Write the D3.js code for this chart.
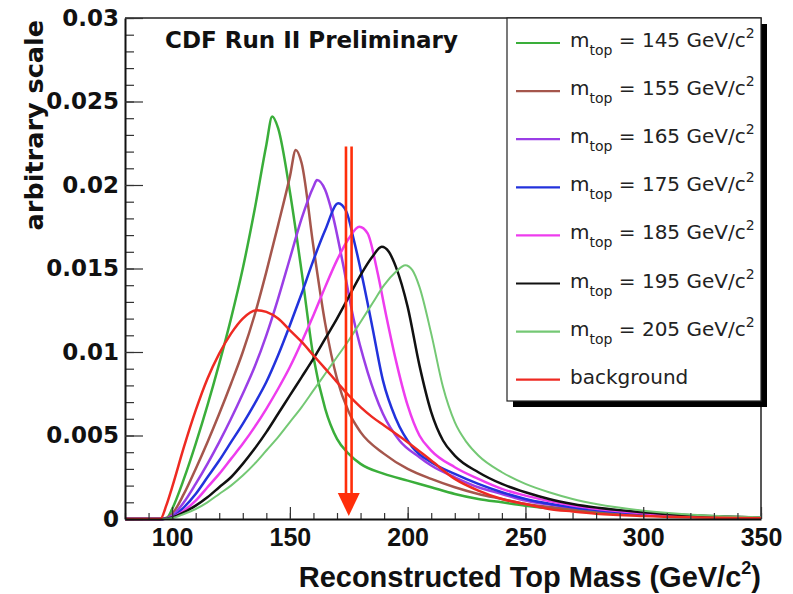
<!DOCTYPE html>
<html>
<head>
<meta charset="utf-8">
<script src="https://cdn.jsdelivr.net/npm/d3@7"></script>
<style>
  body { margin: 0; background: #fff; }
  svg { display: block; }
</style>
</head>
<body>
<div id="outer"></div>
<script>
////////// DATA //////////
const massTicks = [100, 150, 200, 250, 300, 350];
const densityTicks = [0, 0.005, 0.01, 0.015, 0.02, 0.025, 0.03];
const topMasses = [145, 155, 165, 175, 185, 195, 205];
const arrowMass = 175;
const arrowTop = 0.0223;

// [mass, density] pairs for each template
const sig145 = [[80,0],[95,0],[98,0.0001],[100,0.0006],[105,0.0024],[110,0.0045],[115,0.0068],[120,0.0093],[125,0.0120],[130,0.0150],[135,0.0185],[140,0.0224],[142.5,0.0241],[145,0.0234],[150,0.0196],[155,0.0148],[160,0.0097],[165,0.0066],[170,0.0048],[175,0.0039],[180,0.0033],[190,0.0027],[200,0.0023],[210,0.0019],[220,0.0015],[230,0.0012],[240,0.0010],[250,0.0008],[270,0.0005],[300,0.00025],[350,0.00005]];
const sig155 = [[80,0],[96,0],[100,0.0003],[105,0.0015],[110,0.0030],[115,0.0046],[120,0.0063],[125,0.0081],[130,0.0100],[135,0.0122],[140,0.0148],[145,0.0176],[150,0.0205],[152.5,0.0221],[155,0.0213],[160,0.0163],[165,0.0117],[170,0.0084],[175,0.0064],[180,0.0052],[190,0.0039],[200,0.0030],[210,0.0024],[220,0.0019],[230,0.0015],[240,0.0012],[250,0.0009],[270,0.0006],[300,0.0003],[350,0.00006]];
const sig165 = [[80,0],[96,0],[100,0.0002],[105,0.0010],[110,0.0021],[115,0.0033],[120,0.0046],[125,0.0060],[130,0.0075],[135,0.0091],[140,0.0110],[145,0.0132],[150,0.0156],[155,0.0180],[160,0.0199],[161.5,0.0203],[165,0.0197],[168,0.0183],[172.5,0.0153],[177,0.0120],[183,0.0088],[189.5,0.0063],[196.5,0.0047],[205,0.0037],[210,0.0032],[220,0.0025],[230,0.0019],[240,0.0015],[250,0.0011],[270,0.0007],[300,0.0003],[350,0.00006]];
const sig175 = [[80,0],[96,0],[100,0.0001],[105,0.0007],[110,0.0015],[115,0.0025],[120,0.0035],[125,0.0046],[130,0.0057],[135,0.0069],[140,0.0082],[145,0.0098],[150,0.0116],[155,0.0135],[160,0.0155],[165,0.0173],[170.5,0.0189],[174,0.0184],[177,0.0168],[181,0.0143],[185,0.0115],[189.5,0.0083],[195,0.0060],[202,0.0043],[210,0.0034],[220,0.0027],[230,0.0021],[240,0.0016],[250,0.0012],[270,0.0007],[300,0.0003],[350,0.00006]];
const sig185 = [[80,0],[96,0],[100,0.0001],[105,0.0005],[110,0.0011],[115,0.0019],[120,0.0027],[125,0.0036],[130,0.0045],[135,0.0055],[140,0.0066],[145,0.0078],[150,0.0091],[155,0.0106],[160,0.0122],[165,0.0139],[170,0.0155],[175,0.0168],[179.5,0.0175],[183,0.0171],[187,0.0149],[191,0.0121],[195,0.0095],[200,0.0068],[205,0.0050],[210,0.0041],[220,0.0031],[230,0.0024],[240,0.0018],[250,0.0014],[270,0.0008],[300,0.00035],[350,0.00007]];
const sig195 = [[80,0],[96,0],[100,0.0001],[105,0.0004],[110,0.0008],[115,0.0013],[120,0.0019],[125,0.0025],[130,0.0033],[135,0.0042],[140,0.0052],[145,0.0063],[150,0.0074],[155,0.0085],[160,0.0096],[165,0.0108],[170,0.0120],[175,0.0133],[180,0.0146],[185,0.0157],[189,0.0163],[192,0.0160],[195,0.0151],[200,0.0127],[205,0.0092],[210,0.0064],[215,0.0047],[220,0.0038],[230,0.0028],[240,0.0021],[250,0.0016],[260,0.0012],[270,0.0009],[300,0.0004],[350,0.00008]];
const sig205 = [[80,0],[96,0],[100,0.00005],[105,0.0003],[110,0.0006],[115,0.0010],[120,0.0015],[125,0.0020],[130,0.0026],[135,0.0033],[140,0.0041],[145,0.0049],[150,0.0058],[155,0.0067],[160,0.0077],[165,0.0087],[170,0.0097],[175,0.0107],[180,0.0118],[185,0.0129],[190,0.0140],[195,0.0148],[199,0.0152],[202,0.0149],[205,0.0139],[210,0.0111],[215,0.0079],[220,0.0058],[225,0.0046],[230,0.0038],[240,0.0028],[250,0.0021],[260,0.0016],[270,0.0012],[280,0.0009],[300,0.0005],[350,0.0001]];
const background = [[80,0],[95,0],[97.5,0.0008],[100,0.0019],[105,0.0043],[110,0.0065],[115,0.0084],[120,0.0099],[125,0.0111],[130,0.0120],[136,0.0125],[140,0.0124],[145,0.0120],[150,0.0113],[155,0.0106],[160,0.0098],[165,0.0090],[170,0.0082],[175,0.0074],[180,0.0067],[185,0.0061],[190,0.0056],[200,0.0046],[210,0.0035],[220,0.0024],[230,0.0017],[240,0.0012],[250,0.0009],[260,0.0006],[270,0.00045],[280,0.00032],[300,0.00018],[320,0.0001],[350,0.00005]];

const signals = [sig145, sig155, sig165, sig175, sig185, sig195, sig205];

////////// STYLE //////////
const signalColors = ['#3aae3a', '#a5564c', '#9a3ee6', '#2232dc', '#ee3cee', '#111111', '#74c874'];
const bgColor = '#ee2a22';
const arrowColor = '#ff2e0a';

const W = 793, H = 594;
const frame = {left: 125, right: 761, top: 18, bottom: 519};
const sansWide = '"DejaVu Sans", sans-serif';
const sansNarrow = '"Liberation Sans", Arial, sans-serif';

////////// SVG //////////
const svg = d3.select('#outer').append('svg')
	.attr('width', W)
	.attr('height', H)
	.style('background', '#fff');

const x = d3.scaleLinear().domain([80, 350]).range([frame.left, frame.right]);
const y = d3.scaleLinear().domain([0, 0.03]).range([frame.bottom, frame.top]);

// frame (top & right)
svg.append('path')
	.attr('d', `M${frame.left},${frame.top}H${frame.right}V${frame.bottom}`)
	.attr('fill', 'none')
	.attr('stroke', '#222')
	.attr('stroke-width', 1.5);

// CURVES //
const line = d3.line()
	.x(d => x(d[0]))
	.y(d => y(d[1]))
	.curve(d3.curveMonotoneX);

const curveGroup = svg.append('g').attr('class', 'curves');
signals.forEach((s, i) => {
	curveGroup.append('path')
		.datum(s)
		.attr('d', line)
		.attr('fill', 'none')
		.attr('stroke', signalColors[i])
		.attr('stroke-width', i === 6 ? 2 : 2.5)
		.attr('stroke-linejoin', 'round');
});
curveGroup.append('path')
	.datum(background)
	.attr('d', line)
	.attr('fill', 'none')
	.attr('stroke', bgColor)
	.attr('stroke-width', 2.5);

// AXES //
const yMinor = d3.range(0, 0.0305, 0.001);
const xMinor = d3.range(80, 351, 10);

svg.append('g')
	.attr('transform', `translate(${frame.left},0)`)
	.call(d3.axisLeft(y).tickValues(yMinor).tickSizeInner(-9).tickSizeOuter(0).tickFormat(''))
	.call(g => g.select('.domain').remove())
	.selectAll('line').attr('stroke', '#333').attr('stroke-width', 1.2);

svg.append('g')
	.attr('transform', `translate(0,${frame.bottom})`)
	.call(d3.axisBottom(x).tickValues(xMinor).tickSizeInner(-6).tickSizeOuter(0).tickFormat(''))
	.call(g => g.select('.domain').remove())
	.selectAll('line').attr('stroke', '#333').attr('stroke-width', 1.2);

const yAxis = svg.append('g')
	.attr('transform', `translate(${frame.left},0)`)
	.call(d3.axisLeft(y).tickValues(densityTicks).tickSizeInner(-18).tickSizeOuter(0).tickPadding(6)
		.tickFormat(d3.format('~g')));
yAxis.select('.domain').attr('stroke', '#111').attr('stroke-width', 2);
yAxis.selectAll('.tick line').attr('stroke', '#333').attr('stroke-width', 1.2);
yAxis.selectAll('text')
	.attr('font-family', sansWide)
	.attr('font-weight', 'bold')
	.attr('font-size', 23)
	.attr('fill', '#111');

const xAxis = svg.append('g')
	.attr('transform', `translate(0,${frame.bottom})`)
	.call(d3.axisBottom(x).tickValues(massTicks).tickSizeInner(-12).tickSizeOuter(0).tickPadding(9));
xAxis.select('.domain').attr('stroke', '#111').attr('stroke-width', 2);
xAxis.selectAll('.tick line').attr('stroke', '#333').attr('stroke-width', 1.2);
xAxis.selectAll('text')
	.attr('font-family', sansNarrow)
	.attr('font-weight', 'bold')
	.attr('font-size', 25)
	.attr('fill', '#111');

// AXIS TITLES //
const xTitle = svg.append('text')
	.attr('x', 761)
	.attr('y', 587)
	.attr('text-anchor', 'end')
	.attr('font-family', sansNarrow)
	.attr('font-weight', 'bold')
	.attr('font-size', 29)
	.attr('fill', '#111');
xTitle.append('tspan').text('Reconstructed Top Mass (GeV/c');
xTitle.append('tspan').attr('font-size', 18).attr('dy', -13).text('2');
xTitle.append('tspan').attr('dy', 13).text(')');

svg.append('text')
	.attr('transform', 'translate(43,20) rotate(-90)')
	.attr('text-anchor', 'end')
	.attr('font-family', sansWide)
	.attr('font-weight', 'bold')
	.attr('font-size', 25.5)
	.attr('fill', '#111')
	.text('arbitrary scale');

// TITLE //
svg.append('text')
	.attr('x', 165)
	.attr('y', 48)
	.attr('font-family', sansWide)
	.attr('font-weight', 'bold')
	.attr('font-size', 23)
	.attr('fill', '#111')
	.text('CDF Run II Preliminary');

// ARROW //
const ax = x(arrowMass);
const arrowG = svg.append('g').attr('class', 'arrow');
[-2.8, 2.8].forEach(dx => {
	arrowG.append('line')
		.attr('x1', ax + dx).attr('x2', ax + dx)
		.attr('y1', y(arrowTop)).attr('y2', y(0) - 24)
		.attr('stroke', arrowColor)
		.attr('stroke-width', 2.6);
});
arrowG.append('path')
	.attr('d', `M${ax - 11},${y(0) - 26}L${ax + 11},${y(0) - 26}L${ax},${y(0) - 3}Z`)
	.attr('fill', arrowColor);

// LEGEND //
const leg = {x: 507, y: 18, w: 254, h: 383, shadow: 6};
const legendG = svg.append('g').attr('class', 'legend');
legendG.append('rect')
	.attr('x', leg.x + leg.shadow).attr('y', leg.y + leg.shadow)
	.attr('width', leg.w).attr('height', leg.h)
	.attr('fill', '#000');
legendG.append('rect')
	.attr('x', leg.x).attr('y', leg.y)
	.attr('width', leg.w).attr('height', leg.h)
	.attr('fill', '#fff')
	.attr('stroke', '#222')
	.attr('stroke-width', 1.2);

const rowH = 48.1;
const legendColors = signalColors.concat([bgColor]);
legendColors.forEach((c, i) => {
	const base = 47 + i * rowH;
	legendG.append('line')
		.attr('x1', 516).attr('x2', 560)
		.attr('y1', base - 4).attr('y2', base - 4)
		.attr('stroke', c)
		.attr('stroke-width', 2.2);
	const t = legendG.append('text')
		.attr('x', 570)
		.attr('y', base)
		.attr('font-family', sansWide)
		.attr('font-size', 20)
		.attr('fill', '#222');
	if (i < topMasses.length) {
		t.append('tspan').text('m');
		t.append('tspan').attr('font-size', 14).attr('dy', 8).text('top');
		t.append('tspan').attr('dy', -8).text(` = ${topMasses[i]} GeV/c`);
		t.append('tspan').attr('font-size', 14).attr('dy', -9).text('2');
	} else {
		t.text('background');
	}
});
</script>
</body>
</html>
